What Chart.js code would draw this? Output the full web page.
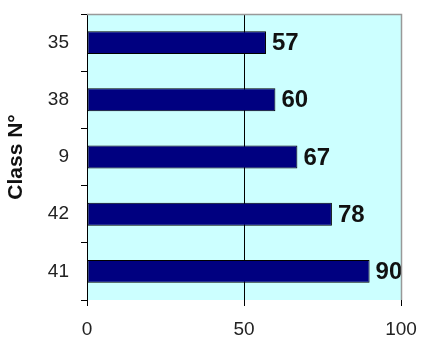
<!DOCTYPE html>
<html>
<head>
<meta charset="utf-8">
<script src="https://cdn.jsdelivr.net/npm/chart.js@4"></script>
<style>
  html,body{margin:0;padding:0;background:#fff;}
  #wrap{width:421px;height:342px;}
</style>
</head>
<body>
<div id="wrap"><canvas id="chart" width="421" height="342"></canvas></div>
<script>
const classes = ["35", "38", "9", "42", "41"];
const scores = [57, 60, 67, 78, 90];
const xTicks = [0, 50, 100];

const FONT = "'Liberation Sans', Arial, sans-serif";

// plot area fill + grey frame on top/right
const plotBg = {
  id: "plotBg",
  beforeDraw(chart){
    const {ctx, chartArea:a} = chart;
    ctx.save();
    ctx.fillStyle = "#ccffff";
    ctx.fillRect(a.left, a.top, a.right-a.left, a.bottom-a.top);
    ctx.restore();
  },
  afterDraw(chart){
    const {ctx, chartArea:a} = chart;
    ctx.save();
    ctx.strokeStyle = "#999";
    ctx.lineWidth = 1.5;
    ctx.beginPath();
    ctx.moveTo(a.left, a.top+0.5); ctx.lineTo(a.right+0.5, a.top+0.5); ctx.lineTo(a.right+0.5, a.bottom);
    ctx.stroke();
    ctx.restore();
  }
};

// value labels at bar ends
const valueLabels = {
  id: "valueLabels",
  afterDatasetsDraw(chart){
    const {ctx} = chart;
    ctx.save();
    ctx.font = "bold 24px " + FONT;
    ctx.fillStyle = "#111";
    ctx.textBaseline = "middle";
    chart.getDatasetMeta(0).data.forEach((bar,i)=>{
      ctx.fillText(String(scores[i]), bar.x+6, bar.y+1);
    });
    ctx.restore();
  }
};

new Chart(document.getElementById("chart"), {
  type: "bar",
  data: {
    labels: classes,
    datasets: [{
      data: scores,
      backgroundColor: "#000080",
      borderColor: "#000",
      borderWidth: 1,
      borderSkipped: false,
      categoryPercentage: 1,
      barPercentage: 0.4
    }]
  },
  options: {
    indexAxis: "y",
    responsive: false,
    animation: false,
    devicePixelRatio: 1,
    layout: {padding: {top: 14, right: 20, left: 4, bottom: 0}},
    plugins: {legend: {display: false}, tooltip: {enabled: false}},
    scales: {
      x: {
        min: 0, max: 100,
        afterBuildTicks(s){ s.ticks = xTicks.map(v=>({value:v})); },
        afterFit(s){ s.height = 42; s.paddingLeft = 0; s.paddingRight = 0; },
        grid: {
          color: c => (c.tick && c.tick.value === 50) ? "#000" : "rgba(0,0,0,0)",
          tickColor: "#000",
          tickLength: 6,
          lineWidth: 1
        },
        border: {display: false},
        ticks: {color: "#222", font: {family: FONT, size: 19}, padding: 12, maxRotation: 0}
      },
      y: {
        afterFit(s){ s.width = 83; s.paddingTop = 0; s.paddingBottom = 0; },
        grid: {drawOnChartArea: false, tickColor: "#000", tickLength: 6, offset: true},
        border: {display: true, color: "#000", width: 1},
        ticks: {color: "#222", font: {family: FONT, size: 19}, padding: 12},
        title: {display: true, text: "Class N°", color: "#111", font: {family: FONT, size: 21, weight: "bold"}, padding: {top: 0, bottom: 0}}
      }
    }
  },
  plugins: [plotBg, valueLabels]
});
</script>
</body>
</html>
